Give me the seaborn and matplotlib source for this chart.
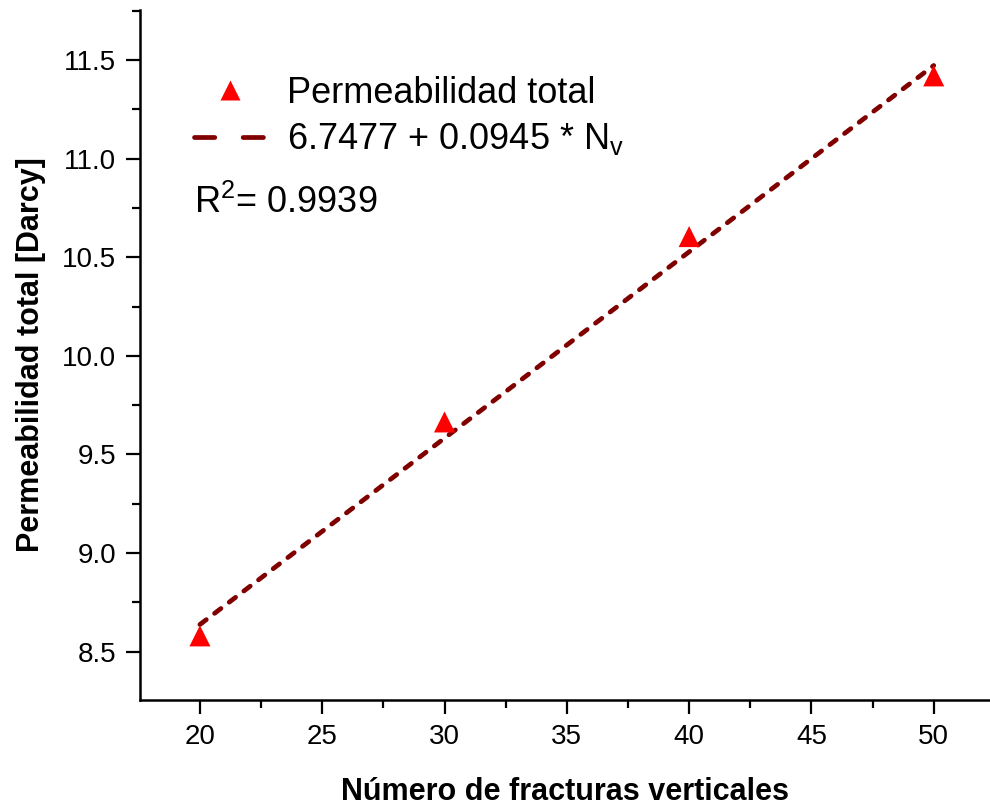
import matplotlib
matplotlib.use("Agg")
import matplotlib.pyplot as plt
from matplotlib.lines import Line2D
from matplotlib.ticker import MultipleLocator
import seaborn as sns
import pandas as pd
import numpy as np

# Data
n_fracturas = [20, 30, 40, 50]
permeabilidad = [8.58, 9.665, 10.605, 11.42]
fit_intercept = 6.7477
fit_slope = 0.0945
r2 = 0.9939

sns.set_theme(style="ticks")
plt.rcParams['font.family'] = ['Liberation Sans', 'DejaVu Sans']
plt.rcParams['mathtext.fontset'] = 'custom'
plt.rcParams['mathtext.rm'] = 'Liberation Sans'
plt.rcParams['mathtext.it'] = 'Liberation Sans'
plt.rcParams['text.color'] = 'black'
plt.rcParams['axes.labelcolor'] = 'black'

fig = plt.figure(figsize=(9.9, 8.08), dpi=100)
ax = fig.add_axes([0.1414, 0.1337, 0.8586, 0.8539])

df = pd.DataFrame({"x": n_fracturas, "y": permeabilidad})
fit_x = np.array([n_fracturas[0], n_fracturas[-1]])
fit_df = pd.DataFrame({"x": fit_x, "y": fit_intercept + fit_slope * fit_x})

sns.lineplot(data=fit_df, x="x", y="y", ax=ax, color="#800000", linewidth=3.4,
             dashes=False, zorder=2)
ax.lines[-1].set_dashes([1.7, 2.2])
ax.lines[-1].set_dash_capstyle("round")
sns.scatterplot(data=df, x="x", y="y", ax=ax, marker="^", s=230, color="#ff0000",
                edgecolor="none", zorder=3)

ax.set_xlim(17.55, 52.3)
ax.set_ylim(8.255, 11.754)
ax.xaxis.set_major_locator(MultipleLocator(5))
ax.xaxis.set_minor_locator(MultipleLocator(2.5))
ax.yaxis.set_major_locator(MultipleLocator(0.5))
ax.yaxis.set_minor_locator(MultipleLocator(0.25))
ax.yaxis.set_major_formatter(matplotlib.ticker.FormatStrFormatter('%.1f'))

for side in ["top", "right"]:
    ax.spines[side].set_visible(False)
for side in ["left", "bottom"]:
    ax.spines[side].set_linewidth(1.8)
    ax.spines[side].set_color("black")

ax.tick_params(axis="both", which="major", length=10, width=1.6, labelsize=20,
               color="black", labelcolor="black", pad=7, direction="out")
ax.tick_params(axis="both", which="minor", length=5.5, width=1.6, color="black",
               direction="out")

ax.set_xlabel("Número de fracturas verticales", fontsize=22, fontweight="bold",
              labelpad=20)
ax.set_ylabel("Permeabilidad total [Darcy]", fontsize=22, fontweight="bold",
              labelpad=12)

handles = [
    Line2D([], [], linestyle="none", marker="^", markersize=15, color="#ff0000",
           markeredgecolor="none"),
    Line2D([], [], color="#800000", linewidth=3.4, dashes=[4.3, 6.0],
           dash_capstyle="round"),
]
labels = ["Permeabilidad total", "6.7477 + 0.0945 * N$_{\\mathregular{v}}$"]
leg = ax.legend(handles, labels, loc="upper left", bbox_to_anchor=(0.046, 0.926),
                frameon=False, fontsize=26, handlelength=2.0, handletextpad=0.6,
                labelspacing=0.3, borderaxespad=0)

ax.text(0.064, 0.7205, "R$^{\\mathregular{2}}$= 0.9939", transform=ax.transAxes,
        fontsize=26, ha="left", va="center")

fig.savefig("out.png", dpi=100)
